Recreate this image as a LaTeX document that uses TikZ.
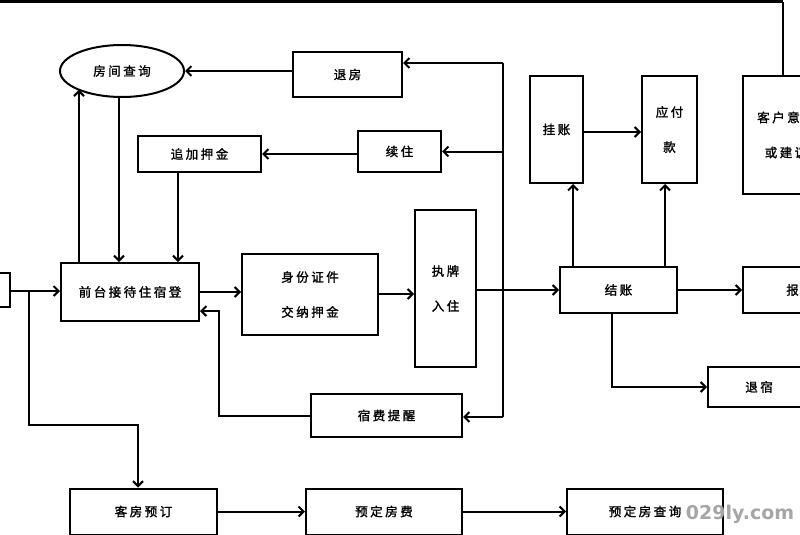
\documentclass[tikz,border=0pt]{standalone}
\usepackage{fontspec}
\newfontfamily\cjk[LetterSpace=20,FakeBold=1.5]{Noto Sans CJK SC}
\usetikzlibrary{arrows.meta,shapes.geometric}
\tikzset{
 bx/.style={draw, line width=2pt, rectangle, inner sep=0pt, font=\cjk\fontsize{12.5}{35}\selectfont, align=center},
 ln/.style={line width=2pt},
 arr/.style={ln, -{Straight Barb[length=5pt,width=10pt]}},
}
\begin{document}
\begin{tikzpicture}[x=1pt,y=-1pt]
\useasboundingbox (0,0) rectangle (800,535);
\clip (0,0) rectangle (800,535);
\fill[white] (0,0) rectangle (800,535);
% nodes
\node[bx, minimum width=20pt, minimum height=34pt] (L) at (0,290) {};
\node[draw, ellipse, line width=2pt, minimum width=124pt, minimum height=52pt, inner sep=0pt, font=\cjk\fontsize{12.5}{35}\selectfont] (Q) at (122,71) {房间查询};
\node[bx, minimum width=109pt, minimum height=45pt] (T) at (347.5,74.5) {退房};
\node[bx, minimum width=83pt, minimum height=41pt] (X) at (399.5,151.5) {续住};
\node[bx, minimum width=123pt, minimum height=36pt] (Z) at (199.5,154) {追加押金};
\node[bx, minimum width=138pt, minimum height=58pt] (F) at (130,292) {前台接待住宿登};
\node[bx, minimum width=136pt, minimum height=81pt] (S) at (310,294.5) {身份证件\\交纳押金};
\node[bx, minimum width=61pt, minimum height=157pt] (P) at (445.5,288.5) {执牌\\入住};
\node[bx, minimum width=151pt, minimum height=43pt] (R) at (386.5,415.5) {宿费提醒};
\node[bx, minimum width=147pt, minimum height=46pt] (K) at (143.5,511.5) {客房预订};
\node[bx, minimum width=156pt, minimum height=46pt] (D) at (384,511.5) {预定房费};
\node[bx, minimum width=156pt, minimum height=46pt] (E) at (645,511.5) {预定房查询};
\node[bx, minimum width=53pt, minimum height=107pt] (G) at (556.5,129.5) {挂账};
\node[bx, minimum width=55pt, minimum height=107pt] (Y) at (669.5,129.5) {应付\\款};
\node[bx, minimum width=86pt, minimum height=118pt] (C) at (786,135) {客户意见\\或建议};
\node[bx, minimum width=117pt, minimum height=46pt] (J) at (618.5,290) {结账};
\node[bx, minimum width=114pt, minimum height=46pt] (B) at (800,290) {报表};
\node[bx, minimum width=102pt, minimum height=40pt] (H) at (759,387) {退宿};
% connectors
\coordinate (b1) at (29,291);
\coordinate (b2) at (138,425);
\draw[arr] (L.east |- b1) -- (F.west |- b1);
\draw[arr] (b1) |- (b2) -- (b2 |- K.north);
\draw[arr] (F.east) -- (S.west |- F.east);
\draw[arr] (S.east |- 0,294) -- (P.west |- 0,294);
\draw[arr] (P.east |- J.west) -- (J.west);
\coordinate (v1) at (503,63);
\coordinate (v2) at (503,417);
\draw[ln] (v1) -- (v2);
\draw[arr] (v1) -- (T.east |- v1);
\draw[arr] (v1 |- X.east) -- (X.east);
\draw[arr] (v2) -- (R.east |- v2);
\coordinate (r1) at (219,311);
\draw[arr] (R.west) -| (r1) -- (F.east |- r1);
\coordinate (q1) at (79,89.7);
\draw[arr] (F.north -| q1) -- (q1);
\coordinate (q2) at (119,97);
\draw[arr] (q2) -- (F.north -| q2);
\coordinate (z1) at (178,172);
\draw[arr] (z1) -- (F.north -| z1);
\draw[arr] (T.west |- Q.east) -- (Q.east);
\draw[arr] (X.west |- Z.east) -- (Z.east);
\draw[arr] (G.east |- 0,132) -- (Y.west |- 0,132);
\coordinate (j1) at (573,267);
\coordinate (j2) at (665,267);
\draw[arr] (j1) -- (G.south -| j1);
\draw[arr] (j2) -- (Y.south -| j2);
\draw[arr] (J.east) -- (B.west |- J.east);
\coordinate (j3) at (612,313);
\draw[arr] (j3) |- (H.west);
\coordinate (t1) at (0,2);
\coordinate (t2) at (783,2);
\draw[line width=3pt] (t1) -- (t2);
\draw[ln] (t2) -- (C.north -| t2);
\draw[arr] (K.east) -- (D.west);
\draw[arr] (D.east) -- (E.west);
\node[font=\fontspec{DejaVu Sans}\bfseries\fontsize{19}{20}\selectfont, text=black!35, inner sep=0pt] (W) at (740,514) {029ly.com};
\end{tikzpicture}
\end{document}
